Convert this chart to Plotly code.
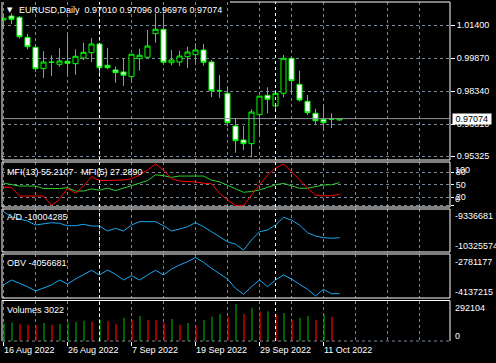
import plotly.graph_objects as go

# ---------------- data ----------------
dates = ["16 Aug 2022", "17 Aug 2022", "18 Aug 2022", "19 Aug 2022", "22 Aug 2022",
         "23 Aug 2022", "24 Aug 2022", "25 Aug 2022", "26 Aug 2022", "29 Aug 2022",
         "30 Aug 2022", "31 Aug 2022", "1 Sep 2022", "2 Sep 2022", "5 Sep 2022",
         "6 Sep 2022", "7 Sep 2022", "8 Sep 2022", "9 Sep 2022", "12 Sep 2022",
         "13 Sep 2022", "14 Sep 2022", "15 Sep 2022", "16 Sep 2022", "19 Sep 2022",
         "20 Sep 2022", "21 Sep 2022", "22 Sep 2022", "23 Sep 2022", "26 Sep 2022",
         "27 Sep 2022", "28 Sep 2022", "29 Sep 2022", "30 Sep 2022", "3 Oct 2022",
         "4 Oct 2022", "5 Oct 2022", "6 Oct 2022", "7 Oct 2022", "10 Oct 2022",
         "11 Oct 2022", "12 Oct 2022", "13 Oct 2022"]

open_ = [1.01646, 1.01831, 1.01771, 1.00844, 1.00380, 0.99388, 0.99680, 0.99592, 0.99731, 0.99620,
         0.99884, 1.00130, 1.00533, 0.99545, 0.99328, 0.99235, 0.99017, 0.99851, 0.99916, 1.01011,
         1.01215, 0.99666, 0.99698, 0.99944, 1.00037, 1.00255, 0.99698, 0.98375, 0.98247, 0.96731,
         0.96082, 0.95911, 0.97255, 0.98155, 0.97658, 0.98247, 0.99870, 0.98664, 0.97876, 0.97320,
         0.97042, 0.97042, 0.97010]
high = [1.01956, 1.01956, 1.01831, 1.00997, 1.00519, 1.00195, 1.00009, 1.00334, 1.00983, 1.00287,
        1.00593, 1.00811, 1.00593, 1.00348, 0.99481, 0.99870, 1.00069, 1.00315, 1.01182, 1.01956,
        1.01956, 1.00255, 1.00222, 1.00408, 1.00565, 1.00533, 0.99791, 0.99096, 0.98553, 0.97102,
        0.96731, 0.97505, 0.98122, 0.98525, 0.98400, 1.00023, 0.99977, 0.99295, 0.98168, 0.97533,
        0.97751, 0.97320, 0.97096]
low = [1.01242, 1.01460, 1.00779, 1.00287, 0.99249, 0.98957, 0.99049, 0.99481, 0.99096, 0.99110,
       0.99791, 0.99698, 0.99142, 0.99360, 0.98739, 0.98586, 0.98739, 0.99295, 0.99900, 1.00593,
       0.99670, 0.99545, 0.99513, 0.99420, 0.99638, 0.99527, 0.98076, 0.98029, 0.96699, 0.95493,
       0.95618, 0.95280, 0.96268, 0.97320, 0.97473, 0.98062, 0.98215, 0.97858, 0.97241, 0.96791,
       0.96513, 0.96638, 0.96976]
close = [1.01725, 1.01678, 1.00871, 1.00408, 0.99388, 0.99698, 0.99690, 0.99745, 0.99638, 0.99963,
         1.00148, 1.00533, 0.99434, 0.99434, 0.99202, 0.99082, 1.00060, 1.00009, 1.00440, 1.01215,
         0.99685, 0.99791, 0.99977, 1.00162, 1.00255, 0.99685, 0.98368, 0.98360, 0.96884, 0.96050,
         0.95911, 0.97380, 0.98115, 0.97969, 0.98247, 0.99870, 0.98831, 0.97937, 0.97348, 0.96977,
         0.96884, 0.97050, 0.97074]

mfi13 = [54, 50, 47, 47, 47, 41, 41, 41, 43, 35, 35, 40, 37, 42, 36, 42, 47, 53, 60, 74,
         72, 68, 71, 71, 71, 71, 61, 57, 49, 41, 32, 34, 37.5, 44, 50, 53.5, 47, 41.6, 41.6,
         45.4, 49.5, 50.2, 55.2107]
mfi5 = [44, 44, 23, 23, 23, 23, 0.5, 15, 41.6, 29.6, 47, 69.5, 60, 60, 61.5, 61.5, 64.7, 73.6,
        85.6, 100, 85.6, 64.5, 59, 58.4, 56.7, 53.6, 52.6, 29.6, 13.5, 0, 0, 25.5, 49.5, 73.6,
        89.7, 100, 81.5, 61.5, 41.6, 25.5, 23, 23.8, 27.2890]

ad = [-9377700, -9498300, -9553800, -9602000, -9698500, -9667100, -9642800, -9657500, -9715400,
      -9715400, -9681600, -9722600, -9722600, -9843200, -9778100, -9843200, -9698500, -9618900,
      -9618900, -9618900, -9715400, -9843200, -9794900, -9739500, -9642800, -9739500, -9860100,
      -9980700, -10101300, -10164000, -10301400, -10060300, -9860100, -9819100, -9698500,
      -9512800, -9577900, -9698500, -9884200, -9963800, -10004300, -10018900, -10004285]

obv = [-3749800, -3573700, -3689900, -3809700, -3961100, -3844900, -3749800, -3573700, -3714600,
       -3538500, -3397600, -3232000, -3397600, -3221500, -3372900, -3573700, -3422200, -3573700,
       -3397600, -3232000, -3397600, -3186200, -3045300, -2929100, -2781177, -2950200, -3161600,
       -3337700, -3538500, -3866000, -4077300, -3809700, -3573700, -3809700, -3573700, -3397600,
       -3538500, -3725000, -3901200, -4137215, -3901200, -4059703, -4056681]

volume = [139700, 144500, 134200, 126300, 124000, 142100, 126300, 134200, 144500, 152400,
          160300, 152400, 165800, 157900, 134200, 184000, 165800, 197400, 165800, 163400,
          144500, 173700, 126300, 142100, 120800, 165800, 191800, 213200, 191800, 292104,
          213200, 262900, 231300, 234500, 213200, 221100, 165800, 184000, 197400, 165800,
          210800, 189500, 3022]

price_ticks = [1.01400, 0.99870, 0.98340, 0.96810, 0.95325]
mfi_levels = [20, 50, 80]
date_tick_idx = [0, 8, 16, 24, 32, 40]
ad_scale = [-9336681, -10325574]
obv_scale = [-2781177, -4137215]
vol_scale = [292104, 0]
last_price = 0.97074
title_text = "EURUSD,Daily\u00a0\u00a00.97010 0.97096 0.96976 0.97074"

# ---------------- styling / layout helpers ----------------
W, H = 496, 363
L, R, T, B = 2, 46, 2, 22
PLOT_BOTTOM = H - B
PLOT_H = H - T - B
PLOT_W = W - L - R
BAR_PX = 8
HALF_PX = 0.5 / BAR_PX   # pixel-snapping nudge for 1px sticks


def fy(px):
    return (PLOT_BOTTOM - px) / PLOT_H


def fx(px):
    return (px - L) / PLOT_W


FONT = "Liberation Sans"
GRID = "#778899"
GREEN = "#00FF00"
BLUE = "#1EA8F0"

idx = list(range(len(dates)))

fig = go.Figure()

fig.add_trace(go.Candlestick(
    x=idx, open=open_, high=high, low=low, close=close,
    increasing=dict(line=dict(color=GREEN, width=1), fillcolor="black"),
    decreasing=dict(line=dict(color=GREEN, width=1), fillcolor="white"),
    whiskerwidth=0, hoverinfo="skip", xaxis="x", yaxis="y"))

fig.add_trace(go.Scatter(x=idx, y=mfi13, mode="lines", line=dict(color="#32CD32", width=1),
                         hoverinfo="skip", xaxis="x", yaxis="y2"))
fig.add_trace(go.Scatter(x=idx, y=mfi5, mode="lines", line=dict(color="#FF0000", width=1),
                         hoverinfo="skip", xaxis="x", yaxis="y2"))
fig.add_trace(go.Scatter(x=idx, y=ad, mode="lines", line=dict(color=BLUE, width=1),
                         hoverinfo="skip", xaxis="x", yaxis="y3"))
fig.add_trace(go.Scatter(x=idx, y=obv, mode="lines", line=dict(color=BLUE, width=1),
                         hoverinfo="skip", xaxis="x", yaxis="y4"))

# volume histogram: 1px sticks, green when volume rises, red when it falls
for col, want_up in (("#00A000", True), ("#FF0000", False)):
    xs, ys = [], []
    for i in idx:
        up = (i == 0) or (volume[i] > volume[i - 1])
        if up == want_up:
            xs += [i + HALF_PX, i + HALF_PX, None]
            ys += [0, volume[i], None]
    fig.add_trace(go.Scatter(x=xs, y=ys, mode="lines", line=dict(color=col, width=1.2),
                             hoverinfo="skip", xaxis="x", yaxis="y5"))

# panels (top px, bottom px)
panels = {
    "main": (2, 160),
    "mfi": (162, 207),
    "ad": (209, 252),
    "obv": (254, 298),
    "vol": (300.5, 341),
}


def dom(name):
    t, b = panels[name]
    return [fy(b), fy(t)]


def axis_range(top_px, top_val, bot_px, bot_val, name):
    t, b = panels[name]
    per = (top_val - bot_val) / (bot_px - top_px)
    return [bot_val - (b - bot_px) * per, top_val + (top_px - t) * per]


grid_kw = dict(showgrid=True, gridcolor=GRID, gridwidth=1, griddash="3px,3px", zeroline=False)
noax = dict(showgrid=False, zeroline=False, showticklabels=False, ticks="", fixedrange=True)

x0 = -(3.5 - L) / BAR_PX
fig.update_layout(
    width=W, height=H,
    margin=dict(l=L, r=R, t=T, b=B),
    paper_bgcolor="black", plot_bgcolor="black",
    showlegend=False, boxgap=0.1, boxgroupgap=0.3,
    font=dict(family=FONT, size=9, color="white"),
    xaxis=dict(
        domain=[0, 1], anchor="y5",
        range=[x0, x0 + PLOT_W / BAR_PX],
        tickmode="array", tickvals=date_tick_idx, ticktext=[dates[i] for i in date_tick_idx],
        ticks="outside", ticklen=4, tickcolor="white", tickwidth=1,
        ticklabelposition="outside right",
        tickfont=dict(family=FONT, size=9, color="white"),
        minor=dict(dtick=4, tick0=0, showgrid=True, gridcolor=GRID, griddash="3px,3px", ticks=""),
        rangeslider=dict(visible=False), fixedrange=True, showline=False,
        **grid_kw),
    yaxis=dict(
        domain=dom("main"), anchor="x", side="right",
        range=axis_range(25.3, 1.01400, 156.3, 0.95325, "main"),
        tickmode="array", tickvals=price_ticks, ticktext=[f"{v:.5f}" for v in price_ticks],
        ticks="outside", ticklen=4, tickcolor="white",
        tickfont=dict(family=FONT, size=9, color="white"),
        fixedrange=True, **grid_kw),
    yaxis2=dict(
        domain=dom("mfi"), anchor="x", side="right",
        range=axis_range(164.0, 100, 205.6, 0, "mfi"),
        tickmode="array", tickvals=[0] + mfi_levels, ticktext=[""] + [str(v) for v in mfi_levels],
        ticks="outside", ticklen=3, tickcolor="white",
        tickfont=dict(family=FONT, size=9, color="white"),
        fixedrange=True, **grid_kw),
    yaxis3=dict(domain=dom("ad"), anchor="x",
                range=axis_range(210, ad_scale[0], 251, ad_scale[1], "ad"), **noax),
    yaxis4=dict(domain=dom("obv"), anchor="x",
                range=axis_range(257.5, obv_scale[0], 296, obv_scale[1], "obv"), **noax),
    yaxis5=dict(domain=dom("vol"), anchor="x",
                range=axis_range(304, vol_scale[0], 341, vol_scale[1], "vol"), **noax),
)

shapes = []
W_LINE = dict(color="white", width=1)
# panel borders
for name, (t, b) in panels.items():
    top_x0 = fx(230) if name == "main" else 0
    shapes.append(dict(type="line", xref="paper", yref="paper", x0=top_x0, x1=1, y0=fy(t), y1=fy(t), line=W_LINE))
    shapes.append(dict(type="line", xref="paper", yref="paper", x0=0, x1=0, y0=fy(b), y1=fy(t), line=W_LINE))
    shapes.append(dict(type="line", xref="paper", yref="paper", x0=1, x1=1, y0=fy(b), y1=fy(t), line=W_LINE))
    if name == "vol":
        shapes.append(dict(type="line", xref="paper", yref="paper", x0=0, x1=1, y0=fy(b), y1=fy(b),
                           line=dict(color=GRID, width=1, dash="3px,3px")))
    else:
        shapes.append(dict(type="line", xref="paper", yref="paper", x0=0, x1=1, y0=fy(b), y1=fy(b), line=W_LINE))

# month separators
for i in idx[1:]:
    if dates[i].split()[1] != dates[i - 1].split()[1]:
        for name in panels:
            t, b = panels[name]
            shapes.append(dict(type="line", xref="x", yref="paper", x0=i, x1=i, y0=fy(b), y1=fy(t),
                               line=dict(color="white", width=1, dash="3px,3px")))

# current price line
shapes.append(dict(type="line", xref="paper", yref="y", x0=0, x1=1, y0=last_price, y1=last_price,
                   line=dict(color="#8C949C", width=1)))
fig.update_layout(shapes=shapes)

ann = []
lab_font = dict(family=FONT, size=9, color="white")
# title
ann.append(dict(xref="paper", yref="paper", x=fx(5), y=fy(10.5), xanchor="left", yanchor="middle",
                text="\u25BC", showarrow=False, font=dict(family="DejaVu Sans", size=7, color="white")))
ann.append(dict(xref="paper", yref="paper", x=fx(17), y=fy(10.5), xanchor="left", yanchor="middle",
                text=title_text, showarrow=False, font=lab_font))
# indicator names
ind_labels = [
    (f"MFI(13) {mfi13[-1]:.4f}\u00a0\u00a0\u00a0MFI(5) {mfi5[-1]:.4f}", 172),
    (f"A/D {ad[-1]}", 217.3),
    (f"OBV {obv[-1]}", 263.3),
    (f"Volumes {volume[-1]}", 309.5),
]
for txt, ypx in ind_labels:
    ann.append(dict(xref="paper", yref="paper", x=fx(5), y=fy(ypx), xanchor="left", yanchor="middle",
                    text=txt, showarrow=False, font=lab_font))

# right-side scale labels for indicator windows
side = [
    ("y2", 100, "100", -5.7), ("y2", 0, "0", 6.3),
    ("y3", ad_scale[0], str(ad_scale[0]), -6), ("y3", ad_scale[1], str(ad_scale[1]), 5.3),
    ("y4", obv_scale[0], str(obv_scale[0]), -4.2), ("y4", obv_scale[1], str(obv_scale[1]), 4.3),
    ("y5", vol_scale[0], str(vol_scale[0]), -3.7), ("y5", vol_scale[1], str(vol_scale[1]), 5.3),
]
for yref, val, txt, shift in side:
    ann.append(dict(xref="paper", yref=yref, x=1, y=val, xanchor="left", yanchor="middle",
                    xshift=3, yshift=shift, text=txt, showarrow=False, font=lab_font))

# current price box
ann.append(dict(xref="paper", yref="y", x=1, y=last_price, xanchor="left", yanchor="middle",
                xshift=2, text="\u00a0" + f"{last_price:.5f}" + "\u00a0", showarrow=False,
                bgcolor="white", borderpad=0, font=dict(family=FONT, size=9, color="black")))
fig.update_layout(annotations=ann)

fig.write_html("out.html", config={"displayModeBar": False, "staticPlot": True},
               post_script="document.body.style.margin='0px';")
